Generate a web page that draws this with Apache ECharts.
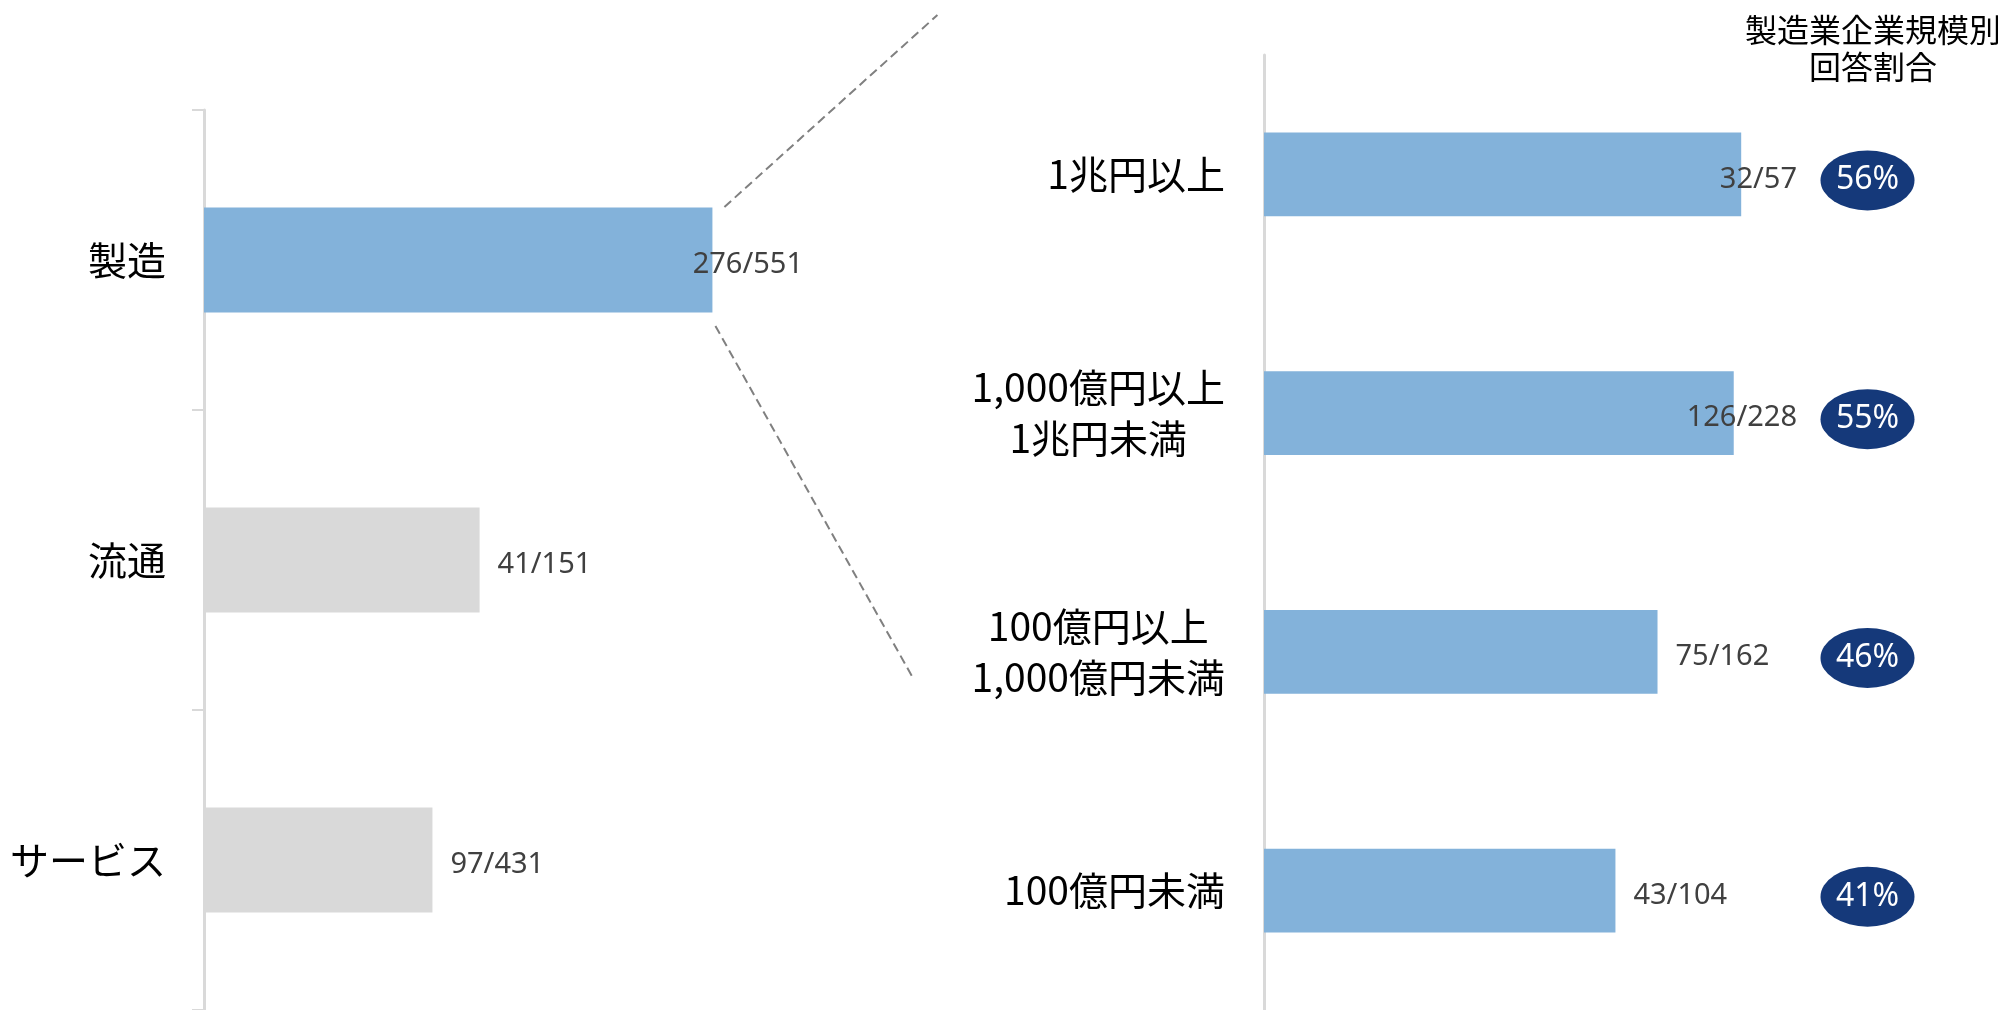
<!DOCTYPE html>
<html>
<head>
<meta charset="utf-8">
<style>
  html, body { margin: 0; padding: 0; background: #fff; }
  #chart { width: 1998px; height: 1010px; }
</style>
<script src="https://cdn.jsdelivr.net/npm/echarts@6/dist/echarts.min.js"></script>
</head>
<body>
<div id="chart"></div>
<script>
// 業種別 回答数 / 対象数
const industryCategories = ['製造', '流通', 'サービス'];
const industryAnswered = [276, 41, 97];
const industryTotal = [551, 151, 431];

// 製造業 企業規模別
const sizeCategories = ['1兆円以上', '1,000億円以上\n1兆円未満', '100億円以上\n1,000億円未満', '100億円未満'];
const sizeAnswered = [32, 126, 75, 43];
const sizeTotal = [57, 228, 162, 104];
const sizeShare = [56, 55, 46, 41];

const titleText = '製造業企業規模別\n回答割合';

// 見た目
const BLUE = '#83B2DA';
const GRAY = '#D9D9D9';
const NAVY = '#15397A';
const CJK = '"Noto Sans CJK JP", sans-serif';
const NUM = '"Noto Sans", "Noto Sans CJK JP", sans-serif';
const CAT_SIZE = 39;
const LABEL_SIZE = 29;
const LABEL_GAP = 18;
const LABEL_DY = 5;
const BADGE_X = 71;

const rate = (a, t) => a.map((v, i) => v / t[i] * 100);
const industryRate = rate(industryAnswered, industryTotal);
const sizeRate = rate(sizeAnswered, sizeTotal);
const industryText = industryAnswered.map((v, i) => `${v}/${industryTotal[i]}`);
const sizeText = sizeAnswered.map((v, i) => `${v}/${sizeTotal[i]}`);

const chart = echarts.init(document.getElementById('chart'));

const axisLine = { show: true, lineStyle: { color: GRAY, width: 3 } };
const valueLabel = {
  show: true,
  position: 'right',
  distance: LABEL_GAP,
  offset: [0, LABEL_DY],
  fontFamily: NUM,
  fontSize: LABEL_SIZE,
  color: '#404040'
};

const option = {
  animation: false,
  backgroundColor: '#fff',
  title: {
    text: titleText,
    left: 1868,
    top: 6,
    textAlign: 'center',
    textStyle: { fontFamily: CJK, fontSize: 32, fontWeight: 'normal', color: '#000', lineHeight: 37 }
  },
  grid: [
    { left: 204, top: 110, width: 609, height: 900 },
    { left: 1264, top: 55, width: 680, height: 960 }
  ],
  xAxis: [
    { type: 'value', gridIndex: 0, min: 0, max: 60, show: false },
    { type: 'value', gridIndex: 1, min: 0, max: 80, show: false }
  ],
  yAxis: [
    {
      type: 'category', gridIndex: 0, inverse: true, data: industryCategories,
      axisLine: axisLine,
      axisTick: { show: true, length: 12, lineStyle: { color: GRAY, width: 2 } },
      axisLabel: { margin: 38, fontFamily: CJK, fontSize: CAT_SIZE, color: '#000' }
    },
    {
      type: 'category', gridIndex: 1, inverse: true, data: sizeCategories,
      axisLine: axisLine,
      axisTick: { show: false },
      axisLabel: {
        margin: 39,
        fontFamily: CJK, fontSize: CAT_SIZE, color: '#000', lineHeight: 51,
        formatter: (v) => v.split('\n').map(s => `{c|${s}}`).join('\n'),
        rich: { c: { align: 'center', fontFamily: CJK, fontSize: CAT_SIZE, color: '#000', lineHeight: 51 } }
      }
    }
  ],
  series: [
    {
      type: 'bar', xAxisIndex: 0, yAxisIndex: 0,
      data: industryRate,
      barWidth: '35%',
      itemStyle: { color: (p) => p.dataIndex === 0 ? BLUE : GRAY },
      label: { ...valueLabel, formatter: (p) => industryText[p.dataIndex] }
    },
    {
      type: 'bar', xAxisIndex: 1, yAxisIndex: 1,
      data: sizeRate,
      barWidth: '35%',
      itemStyle: { color: BLUE },
      label: { ...valueLabel, formatter: (p) => sizeText[p.dataIndex] }
    },
    {
      type: 'scatter', xAxisIndex: 1, yAxisIndex: 1,
      data: sizeShare.map((s, i) => [BADGE_X, i, s]),
      symbol: 'circle',
      symbolSize: [94, 60],
      symbolOffset: [0, 6],
      itemStyle: { color: NAVY, opacity: 1 },
      label: {
        show: true, position: 'inside',
        formatter: (p) => `${p.value[2]}%`,
        fontFamily: NUM, fontSize: 32, color: '#fff'
      },
      z: 5
    }
  ]
};

chart.setOption(option);

// ラベルが右端を超える場合は左へ寄せる
const ctx = document.createElement('canvas').getContext('2d');
ctx.font = `${LABEL_SIZE}px "Noto Sans"`;
function clampedData(gridIndex, values, texts, limit) {
  return values.map((v, i) => {
    const end = chart.convertToPixel({ gridIndex: gridIndex }, [v, i])[0];
    const over = end + LABEL_GAP + ctx.measureText(texts[i]).width - limit;
    return over > 0 ? { value: v, label: { offset: [-over, LABEL_DY] } } : v;
  });
}

// 製造バーから右側への拡大を示す破線
const p = chart.convertToPixel({ gridIndex: 0 }, [industryRate[0], 0]);
const dash = { stroke: '#808080', lineWidth: 2, lineDash: [9, 5] };
chart.setOption({
  series: [
    { data: clampedData(0, industryRate, industryText, 803) },
    { data: clampedData(1, sizeRate, sizeText, 1797) }
  ],
  graphic: [
    { type: 'line', shape: { x1: p[0] + 12, y1: p[1] - 53, x2: p[0] + 225, y2: p[1] - 245 }, style: dash, silent: true },
    { type: 'line', shape: { x1: p[0] + 3, y1: p[1] + 66, x2: p[0] + 200, y2: p[1] + 417 }, style: dash, silent: true }
  ]
});

window.addEventListener('resize', () => chart.resize());
</script>
</body>
</html>
